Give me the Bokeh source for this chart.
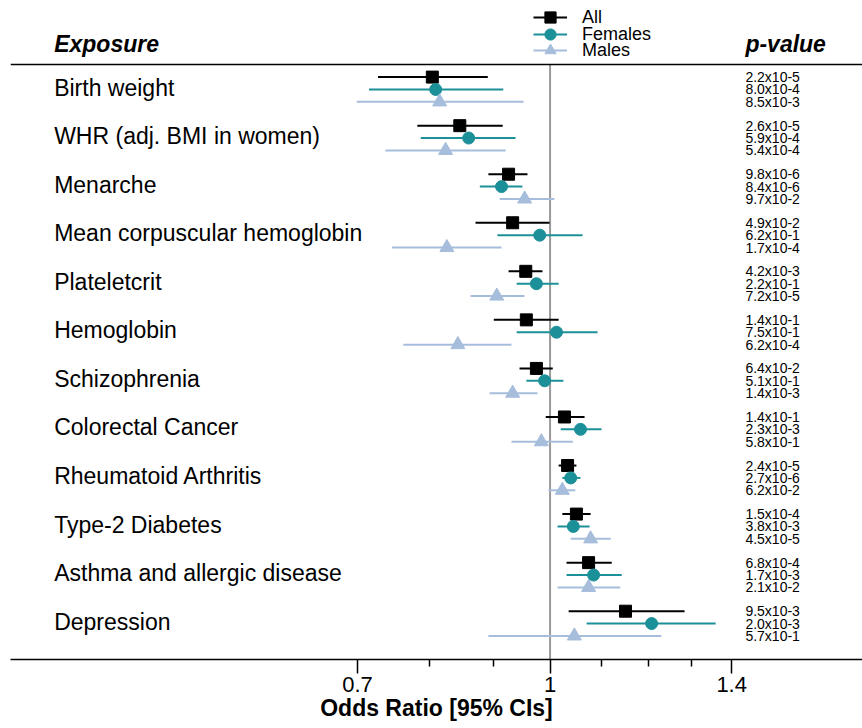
from bokeh.plotting import figure
from bokeh.models import (ColumnDataSource, Range1d, FixedTicker, Legend, LegendItem)
from bokeh.core.properties import value
from bokeh.embed import file_html
from bokeh.resources import INLINE

# ---------------- data ----------------
exposures = ["Birth weight", "WHR (adj. BMI in women)", "Menarche",
             "Mean corpuscular hemoglobin", "Plateletcrit", "Hemoglobin",
             "Schizophrenia", "Colorectal Cancer", "Rheumatoid Arthritis",
             "Type-2 Diabetes", "Asthma and allergic disease", "Depression"]

or_all = [0.804, 0.846, 0.926, 0.933, 0.956, 0.957, 0.975, 1.027, 1.033, 1.050, 1.074, 1.150]
lo_all = [0.727, 0.782, 0.892, 0.871, 0.926, 0.901, 0.945, 0.992, 1.016, 1.023, 1.031, 1.035]
hi_all = [0.891, 0.916, 0.959, 0.999, 0.986, 1.016, 1.005, 1.066, 1.050, 1.078, 1.121, 1.283]

or_fem = [0.809, 0.860, 0.914, 0.981, 0.975, 1.012, 0.990, 1.058, 1.039, 1.044, 1.084, 1.207]
lo_fem = [0.715, 0.787, 0.878, 0.907, 0.940, 0.940, 0.957, 1.020, 1.023, 1.014, 1.031, 1.070]
hi_fem = [0.917, 0.938, 0.950, 1.062, 1.016, 1.092, 1.025, 1.100, 1.058, 1.076, 1.142, 1.359]

or_male = [0.815, 0.824, 0.954, 0.826, 0.906, 0.843, 0.933, 0.984, 1.023, 1.078, 1.074, 1.046]
lo_male = [0.699, 0.737, 0.911, 0.746, 0.863, 0.762, 0.894, 0.931, 0.997, 1.039, 1.014, 0.892]
hi_male = [0.952, 0.921, 1.008, 0.914, 0.954, 0.931, 0.977, 1.043, 1.048, 1.119, 1.139, 1.229]

p_all = ["2.2x10-5", "2.6x10-5", "9.8x10-6", "4.9x10-2", "4.2x10-3", "1.4x10-1",
         "6.4x10-2", "1.4x10-1", "2.4x10-5", "1.5x10-4", "6.8x10-4", "9.5x10-3"]
p_fem = ["8.0x10-4", "5.9x10-4", "8.4x10-6", "6.2x10-1", "2.2x10-1", "7.5x10-1",
         "5.1x10-1", "2.3x10-3", "2.7x10-6", "3.8x10-3", "1.7x10-3", "2.0x10-3"]
p_male = ["8.5x10-3", "5.4x10-4", "9.7x10-2", "1.7x10-4", "7.2x10-5", "6.2x10-4",
          "1.4x10-3", "5.8x10-1", "6.2x10-2", "4.5x10-5", "2.1x10-2", "5.7x10-1"]

ticks_major = [0.7, 1.0, 1.4]
ticks_minor = [0.8, 0.9, 1.1, 1.2, 1.3]

# ---------------- layout constants ----------------
FONT = "Liberation Sans"
C_ALL, C_FEM, C_MALE = "black", "#1c9099", "#a6bddb"
OFF = 0.255          # vertical offset of sub-rows within a group
LABEL_X = 0.399      # x (data) of exposure labels
PVAL_X = 1.436       # x (data) of p-values
HEAD_Y = -0.93       # y of header texts
LINE_Y = -0.515      # y of header rule
Y_BOTTOM, Y_TOP = 11.74, -1.668
X_LEFT, X_RIGHT = 0.368, 1.784

n = len(exposures)
grp = list(range(n))

p = figure(width=862, height=728, x_axis_type="log",
           x_range=Range1d(X_LEFT, X_RIGHT), y_range=Range1d(Y_BOTTOM, Y_TOP),
           output_backend="svg", toolbar_location=None,
           y_axis_location=None, min_border_left=10, min_border_right=0,
           min_border_top=8, min_border_bottom=69)
p.grid.visible = False
p.outline_line_color = None
p.background_fill_color = "white"
p.border_fill_color = "white"

# reference line at OR = 1
p.segment(x0=[1.0], x1=[1.0], y0=[Y_BOTTOM], y1=[LINE_Y], line_color="#999999", line_width=2)
# header rule
p.segment(x0=[X_LEFT], x1=[X_RIGHT], y0=[LINE_Y], y1=[LINE_Y], line_color="black", line_width=1.5)

def series(orv, lo, hi, off, color, marker, size):
    src = ColumnDataSource(dict(y=[g + off for g in grp], orv=orv, lo=lo, hi=hi))
    seg = p.segment(x0="lo", x1="hi", y0="y", y1="y", source=src, line_color=color, line_width=2)
    sc = p.scatter(x="orv", y="y", source=src, marker=marker, size=size,
                   fill_color=color, line_color=color)
    return seg, sc

r_all = series(or_all, lo_all, hi_all, -OFF, C_ALL, "square", 12)
r_fem = series(or_fem, lo_fem, hi_fem, 0.0, C_FEM, "circle", 12)
r_male = series(or_male, lo_male, hi_male, OFF, C_MALE, "triangle", 14)

# exposure labels
lab_src = ColumnDataSource(dict(x=[LABEL_X] * n, y=[g - 0.04 for g in grp], t=exposures))
p.text(x="x", y="y", text="t", source=lab_src, text_font=value(FONT),
       text_font_size="23px", text_baseline="middle", text_align="left", text_color="black")

# p-values
pv_src = ColumnDataSource(dict(
    x=[PVAL_X] * (3 * n),
    y=[g - OFF for g in grp] + grp + [g + OFF for g in grp],
    t=p_all + p_fem + p_male))
p.text(x="x", y="y", text="t", source=pv_src, text_font=value(FONT),
       text_font_size="14px", text_baseline="middle", text_align="left", text_color="black")

# headers
hd_src = ColumnDataSource(dict(x=[LABEL_X, PVAL_X], y=[HEAD_Y, HEAD_Y], t=["Exposure", "p-value"]))
p.text(x="x", y="y", text="t", source=hd_src, text_font=value(FONT), text_font_size="23px",
       text_font_style="bold italic", text_baseline="middle", text_align="left", text_color="black")

# x axis
ax = p.xaxis[0]
ax.ticker = FixedTicker(ticks=ticks_major, minor_ticks=ticks_minor)
ax.major_label_overrides = {0.7: "0.7", 1.0: "1", 1.4: "1.4"}
ax.axis_label = "Odds Ratio [95% CIs]"
ax.axis_label_text_font = FONT
ax.axis_label_text_font_style = "bold"
ax.axis_label_text_font_size = "23px"
ax.axis_label_text_color = "black"
ax.axis_label_standoff = 0
ax.major_label_text_font = FONT
ax.major_label_text_font_size = "22px"
ax.major_label_text_color = "black"
ax.major_label_standoff = 3
ax.major_tick_out = 14
ax.major_tick_in = 0
ax.minor_tick_out = 7
ax.minor_tick_in = 0
ax.axis_line_width = 1.5
ax.major_tick_line_width = 1.5
ax.minor_tick_line_width = 1.5
ax.axis_line_color = "black"

# legend: one entry per Legend so rows can sit close together
GH = 28
for (lab, rends, yc) in [("All", r_all, 16), ("Females", r_fem, 33), ("Males", r_male, 49)]:
    lg = Legend(items=[LegendItem(label=lab, renderers=list(rends))],
                location=(523, 658 - yc - GH / 2),
                glyph_width=34, glyph_height=GH, label_height=16, spacing=0,
                padding=0, margin=0, border_line_alpha=0, background_fill_alpha=0,
                label_text_font=FONT, label_text_font_size="18px", label_standoff=15,
                label_text_color="black")
    p.add_layout(lg)

open("out.html", "w").write(file_html(p, INLINE))
